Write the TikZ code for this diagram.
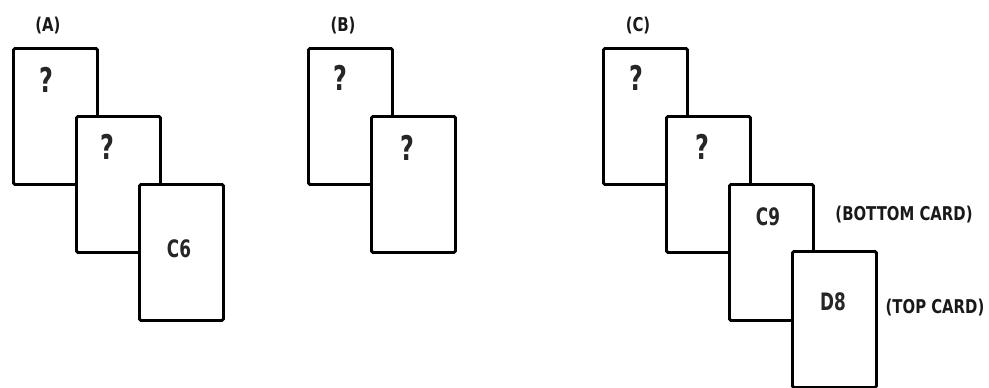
\documentclass[tikz,border=0pt]{standalone}
\usepackage{fontspec}
\setmainfont{DejaVu Sans Condensed}
\newfontfamily\narrowfont[FakeStretch=0.78]{DejaVu Sans Condensed}
\newfontfamily\tagfont[FakeStretch=0.87]{DejaVu Sans Condensed}
\begin{document}
\begin{tikzpicture}[x=1pt,y=-1pt,
  card/.style={draw=black,line width=2.9pt,fill=white,rounded corners=1.5pt,
    minimum width=84pt,minimum height=136pt,inner sep=0pt,anchor=north west},
  qmark/.style={font=\narrowfont\bfseries\fontsize{34}{34}\selectfont,text=black!85},
  face/.style={font=\narrowfont\bfseries\fontsize{24}{24}\selectfont,text=black!85},
  tag/.style={font=\tagfont\bfseries\fontsize{19}{19}\selectfont,text=black!90}]
\useasboundingbox (0,0) rectangle (989,388);

% (A) three cards, the last one face up
\node[tag] (la) at (48,26) {(A)};
\node[card] (a1) at (12,47) {};
\node[qmark] (qa1) at (46,80) {?};
\node[card] (a2) at (75,115) {};
\node[qmark] (qa2) at (107,147) {?};
\node[card] (a3) at (138,183) {};
\node[face] (fa3) at (179,249) {C6};

% (B) two face-down cards
\node[tag] (lb) at (343,26) {(B)};
\node[card] (b1) at (307,47) {};
\node[qmark] (qb1) at (340,78) {?};
\node[card] (b2) at (370,115) {};
\node[qmark] (qb2) at (407,148) {?};

% (C) four cards with bottom and top cards shown
\node[tag] (lc) at (638,26) {(C)};
\node[card] (c1) at (602,47) {};
\node[qmark] (qc1) at (636,78) {?};
\node[card] (c2) at (665,115) {};
\node[qmark] (qc2) at (702,147) {?};
\node[card] (c3) at (728,183) {};
\node[face] (fc3) at (768,217) {C9};
\node[card] (c4) at (791,250) {};
\node[face] (fc4) at (833,302) {D8};

\node[tag] (bot) at (904,215) {(BOTTOM CARD)};
\node[tag] (top) at (935,308) {(TOP CARD)};
\end{tikzpicture}
\end{document}
